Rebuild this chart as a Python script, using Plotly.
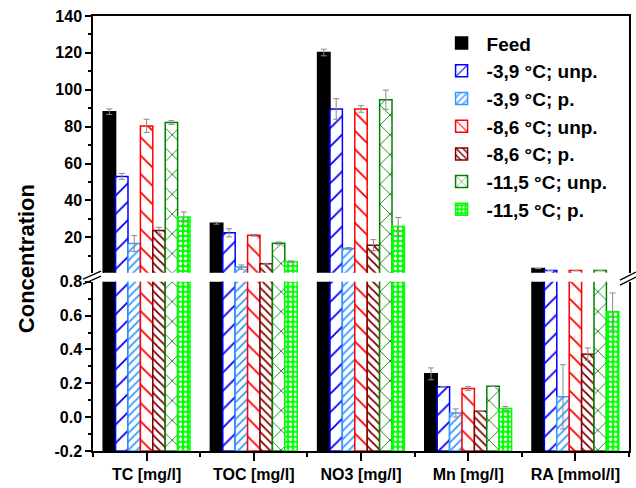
import plotly.graph_objects as go

# ---------------- data ----------------
categories = ["TC [mg/l]", "TOC [mg/l]", "NO3 [mg/l]", "Mn [mg/l]", "RA [mmol/l]"]

series_names = ["Feed", "-3,9 °C; unp.", "-3,9 °C; p.", "-8,6 °C; unp.",
                "-8,6 °C; p.", "-11,5 °C; unp.", "-11,5 °C; p."]

feed = [88.1, 27.6, 120.2, 0.256, 3.0]
feed_err = [1.5, 0.5, 1.8, 0.035, None]

c39_unp = [53.0, 22.4, 89.6, 0.179, 2.0]
c39_unp_err = [1.6, 2.2, 5.6, None, None]

c39_p = [16.6, 3.8, 13.9, 0.025, 0.12]
c39_p_err = [4.3, 1.2, 0.5, 0.024, 0.19]

c86_unp = [80.4, 21.1, 89.6, 0.169, 2.0]
c86_unp_err = [3.6, 0.5, 1.8, 0.012, None]

c86_p = [23.6, 5.6, 15.7, 0.035, 0.372]
c86_p_err = [1.8, 0.3, 3.0, None, 0.037]

c115_unp = [82.2, 16.8, 94.6, 0.183, 2.0]
c115_unp_err = [1.0, 0.6, 5.2, None, None]

c115_p = [31.0, 6.7, 25.8, 0.051, 0.624]
c115_p_err = [2.7, 0.5, 4.9, 0.012, 0.11]

values = [feed, c39_unp, c39_p, c86_unp, c86_p, c115_unp, c115_p]
errors = [feed_err, c39_unp_err, c39_p_err, c86_unp_err, c86_p_err, c115_unp_err, c115_p_err]

# axis break
low_range = [-0.2, 0.8]
high_range = [0.8, 140]
break_value = 0.8

# ---------------- styles ----------------
styles = [
    dict(color="black", shape="", fg="black", bg="black", size=8, sol=0.3),
    dict(color="#0000FF", shape="/", fg="#0000FF", bg="white", size=13, sol=0.14),
    dict(color="#3399FF", shape="/", fg="#3399FF", bg="white", size=6, sol=0.3),
    dict(color="#FF0000", shape="\\", fg="#FF0000", bg="white", size=13, sol=0.14),
    dict(color="#800000", shape="\\", fg="#800000", bg="white", size=6, sol=0.3),
    dict(color="#008000", shape="x", fg="#008000", bg="white", size=14, sol=0.12),
    dict(color="#00FF00", shape=".", fg="white", bg="#00FF00", size=5, sol=0.35),
]

FONT = "Liberation Sans, Arial, sans-serif"
x_idx = list(range(len(categories)))

fig = go.Figure()

for name, vals, errs, st in zip(series_names, values, errors, styles):
    if st["shape"]:
        marker = dict(color="white",
                      pattern=dict(shape=st["shape"], fgcolor=st["fg"], bgcolor=st["bg"],
                                   size=st["size"], solidity=st["sol"], fillmode="replace"),
                      line=dict(color=st["color"], width=1.5))
    else:
        marker = dict(color=st["color"], line=dict(color=st["color"], width=1.5))

    # upper segment (values above the break)
    hi_vals = [v if v > break_value else None for v in vals]
    hi_err = [e if (v > break_value) else None for v, e in zip(vals, errs)]
    fig.add_trace(go.Bar(
        x=x_idx, y=hi_vals, name=name, legendgroup=name, showlegend=True,
        marker=marker, xaxis="x2", yaxis="y2",
        error_y=dict(type="data", array=hi_err, color="#8a8a8a", thickness=1, width=3),
    ))

    # lower segment: bars drawn from the bottom of the axis
    lo_size = [v - low_range[0] for v in vals]
    lo_err = [e if (v < break_value) else None for v, e in zip(vals, errs)]
    fig.add_trace(go.Bar(
        x=x_idx, y=lo_size, base=low_range[0], name=name, legendgroup=name, showlegend=False,
        marker=marker, xaxis="x", yaxis="y",
        error_y=dict(type="data", array=lo_err, color="#8a8a8a", thickness=1, width=3),
    ))

tickfont = dict(family=FONT, size=16, color="black", weight="bold")

fig.update_layout(
    width=636, height=488,
    margin=dict(l=93, r=7, t=16, b=37, autoexpand=False),
    paper_bgcolor="white", plot_bgcolor="white",
    barmode="group", bargap=0.19, bargroupgap=0,
    font=dict(family=FONT, color="black"),
    showlegend=True,
    legend=dict(x=0.641, y=0.981, xanchor="left", yanchor="top",
                bgcolor="rgba(0,0,0,0)", borderwidth=0,
                font=dict(family=FONT, size=19, color="black", weight="bold"),
                itemwidth=40, tracegroupgap=0),
    xaxis=dict(domain=[0, 1], range=[-0.5, 4.5], anchor="y", automargin=False,
               tickmode="array", tickvals=x_idx, ticktext=categories,
               ticks="outside", ticklen=8, tickwidth=1.5, tickcolor="black",
               minor=dict(tickmode="array", tickvals=[-0.5, 0.5, 1.5, 2.5, 3.5, 4.5],
                          ticks="outside", ticklen=4, tickwidth=1.5, tickcolor="black"),
               showline=True, linecolor="black", linewidth=1.5, mirror=False,
               showgrid=False, zeroline=False, tickfont=tickfont),
    xaxis2=dict(domain=[0, 1], range=[-0.5, 4.5], anchor="y2", matches="x", side="top",
                automargin=False,
                showticklabels=False, ticks="", showline=True, linecolor="black",
                linewidth=1.5, showgrid=False, zeroline=False),
    yaxis=dict(domain=[0, 0.389], range=low_range, anchor="x", automargin=False,
               tickmode="array", tickvals=[-0.2, 0.0, 0.2, 0.4, 0.6, 0.8],
               ticktext=["-0.2", "0.0", "0.2", "0.4", "0.6", "0.8"],
               ticks="outside", ticklen=6, tickwidth=1.5, tickcolor="black",
               minor=dict(tickmode="array", tickvals=[-0.1, 0.1, 0.3, 0.5, 0.7],
                          ticks="outside", ticklen=3, tickwidth=1.5, tickcolor="black"),
               showline=True, mirror=True, linecolor="black", linewidth=1.5,
               showgrid=False, zeroline=False, tickfont=tickfont),
    yaxis2=dict(domain=[0.410, 1], range=high_range, anchor="x2", automargin=False,
                tickmode="array", tickvals=[20, 40, 60, 80, 100, 120, 140],
                ticks="outside", ticklen=6, tickwidth=1.5, tickcolor="black",
                minor=dict(tickmode="array", tickvals=[10, 30, 50, 70, 90, 110, 130],
                           ticks="outside", ticklen=3, tickwidth=1.5, tickcolor="black"),
                showline=True, mirror=True, linecolor="black", linewidth=1.5,
                showgrid=False, zeroline=False, tickfont=tickfont),
)

# y-axis title
fig.add_annotation(text="Concentration", xref="paper", yref="paper",
                   x=-0.125, y=0.441, xanchor="center", yanchor="middle",
                   textangle=-90, showarrow=False,
                   font=dict(family=FONT, size=22, color="black", weight="bold"))

# axis-break marks (paper coordinates)
def px_to_paper(px, py):
    return (px - 93) / 536, (451 - py) / 435.3

for (x0, y0, x1, y1) in [(83, 279, 101, 271), (83, 284, 101, 276),
                         (620, 280, 636, 272), (620, 285, 636, 277)]:
    a0, b0 = px_to_paper(x0, y0)
    a1, b1 = px_to_paper(x1, y1)
    fig.add_shape(type="line", xref="paper", yref="paper",
                  x0=a0, y0=b0, x1=a1, y1=b1,
                  line=dict(color="black", width=1.3))

fig.write_html("out.html", config={"displayModeBar": False},
               post_script="document.body.style.margin='0';document.body.style.overflow='hidden';")
